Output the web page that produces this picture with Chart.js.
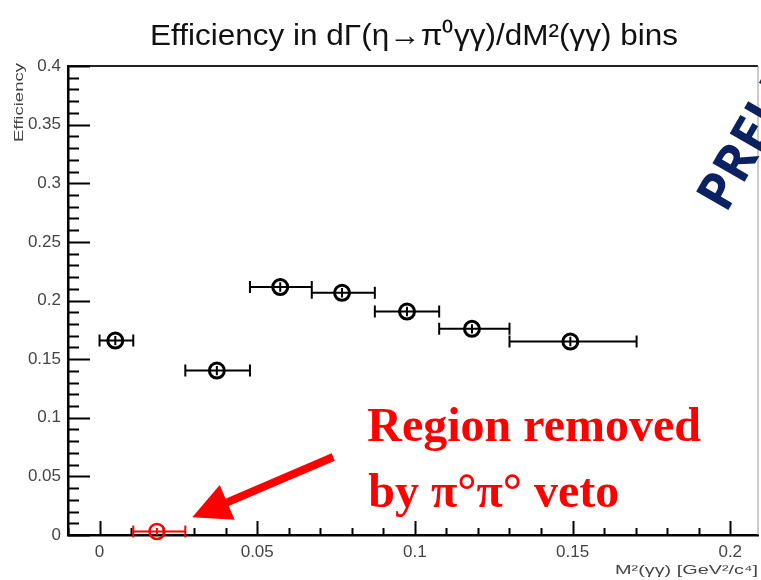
<!DOCTYPE html>
<html>
<head>
<meta charset="utf-8">
<script src="https://cdn.jsdelivr.net/npm/chart.js@4.4.0/dist/chart.umd.min.js"></script>
<style>
  html, body { margin: 0; padding: 0; background: #fff; }
  canvas { display: block; }
</style>
</head>
<body>
<canvas id="effChart" width="761" height="580"></canvas>
<script>
// mean M^2(gg) in each bin and the bin edges [GeV^2/c^4]
const binCenter  = [0.0050, 0.0372, 0.0573, 0.0769, 0.0975, 0.1181, 0.1493];
const binLow     = [0.0000, 0.0272, 0.0477, 0.0673, 0.0873, 0.1077, 0.1300];
const binHigh    = [0.0107, 0.0477, 0.0673, 0.0873, 0.1077, 0.1300, 0.1703];
const efficiency = [0.1658, 0.1402, 0.2115, 0.2066, 0.1906, 0.1758, 0.1650];
const effError   = [0.004, 0.004, 0.004, 0.004, 0.004, 0.004, 0.004];

// bin killed by the pi0 pi0 veto
const vetoCenter = [0.0182];
const vetoLow    = [0.0107];
const vetoHigh   = [0.0272];
const vetoEff    = [0.003];
const vetoError  = [0.003];

// axis ticks
const xTicks      = [0, 0.05, 0.1, 0.15, 0.2];
const xTickLabels = ['0', '0.05', '0.1', '0.15', '0.2'];
const yTicks      = [0, 0.05, 0.1, 0.15, 0.2, 0.25, 0.3, 0.35, 0.4];
const yTickLabels = ['0', '0.05', '0.1', '0.15', '0.2', '0.25', '0.3', '0.35', '0.4'];

// annotation anchor points, in axis units
const noteLine1 = [0.0849, 0.0803];
const noteLine2 = [0.0852, 0.0241];
const arrowFrom = [0.0741, 0.0665];
const arrowTo   = [0.0294, 0.0151];

const TEXT_GREY = '#444';

// draw text squeezed/stretched to a given width (ROOT canvas was rescaled)
function fitText(ctx, text, x, y, width, angle) {
  const w = ctx.measureText(text).width;
  ctx.save();
  ctx.translate(x, y);
  if (angle) ctx.rotate(angle);
  ctx.scale(width / w, 1);
  ctx.fillText(text, 0, 0);
  ctx.restore();
}

const rootFrame = {
  id: 'rootFrame',
  beforeDatasetsDraw(chart) {
    const { ctx, chartArea: a, scales: { x, y } } = chart;
    ctx.save();
    // top and right edges of the frame
    ctx.strokeStyle = '#222';
    ctx.lineWidth = 2;
    ctx.beginPath();
    ctx.moveTo(a.left, a.top);
    ctx.lineTo(a.right, a.top);
    ctx.stroke();
    ctx.strokeStyle = '#999';
    ctx.lineWidth = 1;
    ctx.beginPath();
    ctx.moveTo(a.right, a.top);
    ctx.lineTo(a.right, a.bottom);
    ctx.stroke();

    // inward ticks, minor every 0.01
    ctx.strokeStyle = '#000';
    ctx.lineWidth = 2;
    ctx.beginPath();
    for (let i = 0; i <= 40; i++) {
      const v = i / 100;
      const py = Math.round(y.getPixelForValue(v)) + 0.5;
      const len = i % 5 === 0 ? 22 : 11;
      ctx.moveTo(a.left, py);
      ctx.lineTo(a.left + len, py);
    }
    for (let i = -1; i <= 20; i++) {
      const v = i / 100;
      const px = Math.round(x.getPixelForValue(v)) + 0.5;
      const len = i % 5 === 0 ? 14 : 7;
      ctx.moveTo(px, a.bottom);
      ctx.lineTo(px, a.bottom - len);
    }
    ctx.stroke();

    // error bars
    const drawBars = (cx, lo, hi, val, err, color) => {
      ctx.strokeStyle = color;
      ctx.lineWidth = 2;
      ctx.beginPath();
      for (let i = 0; i < cx.length; i++) {
        const py = y.getPixelForValue(val[i]);
        const x0 = x.getPixelForValue(lo[i]);
        const x1 = x.getPixelForValue(hi[i]);
        const px = x.getPixelForValue(cx[i]);
        ctx.moveTo(x0, py); ctx.lineTo(x1, py);
        ctx.moveTo(x0, py - 6); ctx.lineTo(x0, py + 6);
        ctx.moveTo(x1, py - 6); ctx.lineTo(x1, py + 6);
        ctx.moveTo(px, y.getPixelForValue(val[i] - err[i]));
        ctx.lineTo(px, y.getPixelForValue(val[i] + err[i]));
      }
      ctx.stroke();
    };
    drawBars(binCenter, binLow, binHigh, efficiency, effError, '#000');
    drawBars(vetoCenter, vetoLow, vetoHigh, vetoEff, vetoError, '#ff0000');
    ctx.restore();
  },
  afterDraw(chart) {
    const { ctx, scales: { x, y } } = chart;
    ctx.save();

    // title
    ctx.fillStyle = '#111';
    ctx.font = '30px "Liberation Sans", Arial, sans-serif';
    ctx.textBaseline = 'alphabetic';
    ctx.textAlign = 'left';
    fitText(ctx, 'Efficiency in dΓ(η→π⁰γγ)/dM²(γγ) bins', 150, 45, 528);

    // axis titles
    ctx.fillStyle = TEXT_GREY;
    ctx.font = '13px "Liberation Sans", Arial, sans-serif';
    ctx.textBaseline = 'middle';
    fitText(ctx, 'Efficiency', 19, 142, 79, -Math.PI / 2);
    fitText(ctx, 'M²(γγ) [GeV²/c⁴]', 615, 570, 143);

    // veto note and arrow
    ctx.fillStyle = '#ff0000';
    ctx.strokeStyle = '#ff0000';
    ctx.font = 'bold 48px "Liberation Serif", "Times New Roman", serif';
    ctx.textBaseline = 'alphabetic';
    ctx.fillText('Region removed', x.getPixelForValue(noteLine1[0]), y.getPixelForValue(noteLine1[1]));
    ctx.fillText('by π°π° veto', x.getPixelForValue(noteLine2[0]), y.getPixelForValue(noteLine2[1]));

    const ax0 = x.getPixelForValue(arrowFrom[0]), ay0 = y.getPixelForValue(arrowFrom[1]);
    const ax1 = x.getPixelForValue(arrowTo[0]),   ay1 = y.getPixelForValue(arrowTo[1]);
    const ang = Math.atan2(ay1 - ay0, ax1 - ax0);
    const headLen = 38, headHalf = 19;
    const bx = ax1 - headLen * Math.cos(ang), by = ay1 - headLen * Math.sin(ang);
    ctx.lineWidth = 8;
    ctx.beginPath();
    ctx.moveTo(ax0, ay0);
    ctx.lineTo(bx + 2 * Math.cos(ang), by + 2 * Math.sin(ang));
    ctx.stroke();
    ctx.beginPath();
    ctx.moveTo(ax1, ay1);
    ctx.lineTo(bx + headHalf * Math.sin(ang), by - headHalf * Math.cos(ang));
    ctx.lineTo(bx - headHalf * Math.sin(ang), by + headHalf * Math.cos(ang));
    ctx.closePath();
    ctx.fill();

    // preliminary stamp, runs off the right edge
    ctx.fillStyle = '#0b2161';
    ctx.font = 'bold 52px "Open Sans", sans-serif';
    ctx.translate(726, 214);
    ctx.rotate(-Math.PI / 3);
    ctx.fillText('PRELIMINARY', 0, 0);
    ctx.restore();
  }
};

const toPoints = (xs, ys) => xs.map((v, i) => ({ x: v, y: ys[i] }));

new Chart(document.getElementById('effChart'), {
  type: 'scatter',
  data: {
    datasets: [
      {
        label: 'Efficiency',
        data: toPoints(binCenter, efficiency),
        pointStyle: 'circle',
        pointRadius: 7.5,
        pointBorderWidth: 3,
        pointBorderColor: '#000',
        pointBackgroundColor: 'rgba(0,0,0,0)',
        clip: false
      },
      {
        label: 'Vetoed bin',
        data: toPoints(vetoCenter, vetoEff),
        pointStyle: 'circle',
        pointRadius: 7.5,
        pointBorderWidth: 2.5,
        pointBorderColor: '#ff0000',
        pointBackgroundColor: 'rgba(0,0,0,0)',
        clip: false
      }
    ]
  },
  options: {
    responsive: false,
    animation: false,
    devicePixelRatio: 1,
    layout: { autoPadding: false, padding: { top: 66, right: 3, left: 0, bottom: 0 } },
    plugins: {
      legend: { display: false },
      tooltip: { enabled: false }
    },
    scales: {
      x: {
        type: 'linear',
        min: -0.01,
        max: 0.2088,
        grid: { display: false, drawTicks: false },
        border: { display: true, color: '#000', width: 2.5 },
        afterBuildTicks: s => { s.ticks = xTicks.map(v => ({ value: v })); },
        afterFit: s => { s.height = 45; s.paddingLeft = 0; s.paddingRight = 0; },
        ticks: {
          padding: 7,
          color: TEXT_GREY,
          font: { family: 'Liberation Sans', size: 17 },
          maxRotation: 0,
          autoSkip: false,
          callback: (v, i) => xTickLabels[i]
        }
      },
      y: {
        type: 'linear',
        min: 0,
        max: 0.4,
        grid: { display: false, drawTicks: false },
        border: { display: true, color: '#000', width: 2.5 },
        afterBuildTicks: s => { s.ticks = yTicks.map(v => ({ value: v })); },
        afterFit: s => { s.width = 68; s.paddingTop = 0; s.paddingBottom = 0; },
        ticks: {
          padding: 7,
          color: TEXT_GREY,
          font: { family: 'Liberation Sans', size: 17 },
          autoSkip: false,
          callback: (v, i) => yTickLabels[i]
        }
      }
    }
  },
  plugins: [rootFrame]
});
</script>
</body>
</html>
